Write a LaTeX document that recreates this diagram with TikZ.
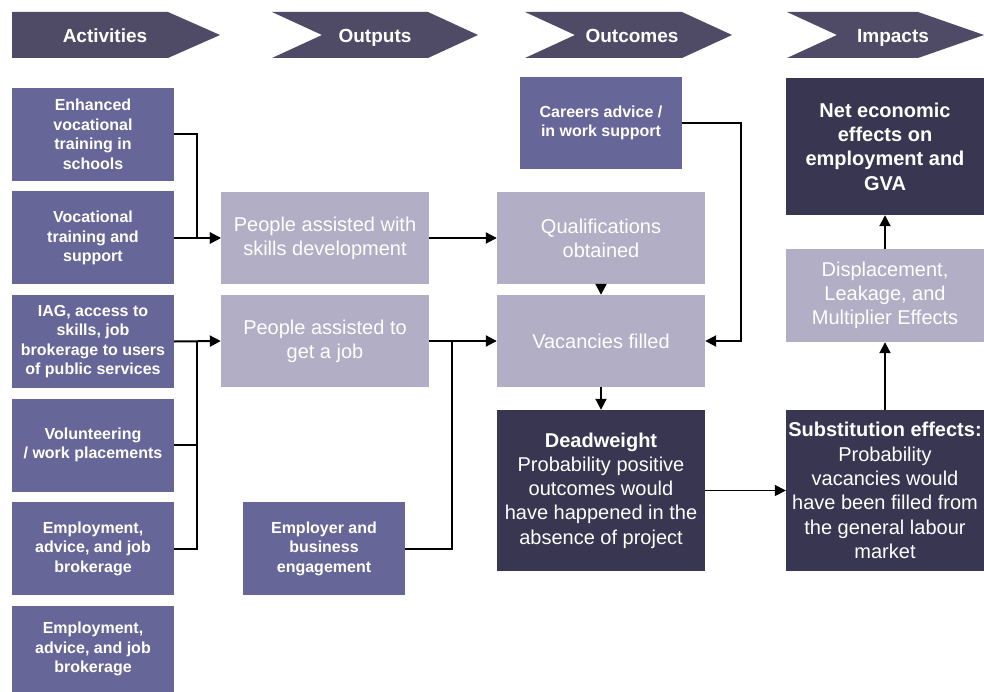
\documentclass[tikz,border=0pt]{standalone}
\usepackage{fontspec}
\setmainfont{Liberation Sans}
\usetikzlibrary{arrows.meta}

\definecolor{headcol}{RGB}{79,74,101}
\definecolor{midcol}{RGB}{102,102,153}
\definecolor{lightcol}{RGB}{178,174,197}
\definecolor{darkcol}{RGB}{56,54,81}

\tikzset{
  actbox/.style={fill=midcol, text=white, align=center, inner sep=0pt, minimum width=162pt, minimum height=93pt, font=\fontsize{16}{19.5}\selectfont\bfseries},
  outbox/.style={fill=lightcol, text=white, align=center, inner sep=0pt, minimum width=208pt, minimum height=92pt, font=\fontsize{20}{24}\selectfont},
  darkbox/.style={fill=darkcol, text=white, align=center, inner sep=0pt, font=\fontsize{20}{24.3}\selectfont},
  headtext/.style={text=white, inner sep=0pt, anchor=base, font=\fontsize{19}{22}\selectfont\bfseries},
  conn/.style={line width=2pt, -{Triangle[length=11pt, width=11pt]}},
  plain/.style={line width=2pt}
}

\begin{document}
\begin{tikzpicture}[x=1pt, y=-1pt]
    \useasboundingbox (0, 0) rectangle (984, 692);
    % headers
    \fill[headcol] (12, 12) -- (168, 12) -- (220, 35) -- (168, 58) -- (12, 58) -- cycle; % activities
    \fill[headcol] (272, 12) -- (428, 12) -- (478, 35) -- (428, 58) -- (272, 58) -- (322, 35) -- cycle; % outputs
    \fill[headcol] (525, 12) -- (682, 12) -- (732, 35) -- (682, 58) -- (525, 58) -- (575, 35) -- cycle; % outcomes
    \fill[headcol] (787, 12) -- (918, 12) -- (984, 35) -- (918, 58) -- (787, 58) -- (837, 35) -- cycle; % impacts
    \node[headtext] (hact) at (105, 43) {Activities};
    \node[headtext] (hout) at (375, 43) {Outputs};
    \node[headtext] (hoce) at (632, 43) {Outcomes};
    \node[headtext] (himp) at (893, 43) {Impacts};
    % activities
    \node[actbox] (enh) at (93, 134.5) {Enhanced\\vocational\\training in\\schools};
    \node[actbox] (voc) at (93, 238) {Vocational\\training and\\support};
    \node[actbox] (iag) at (93, 341.5) {IAG, access to\\skills, job\\brokerage to users\\of public services};
    \node[actbox] (vol) at (93, 445) {Volunteering\\/ work placements};
    \node[actbox] (empa) at (93, 548.5) {Employment,\\advice, and job\\brokerage};
    \node[actbox, minimum height=86pt] (empb) at (93, 649) {Employment,\\advice, and job\\brokerage};
    % outputs
    \node[outbox] (skills) at (325, 238) {People assisted with\\skills development};
    \node[outbox] (job) at (325, 341) {People assisted to\\get a job};
    \node[actbox] (eng) at (324, 548.5) {Employer and\\business\\engagement};
    % outcomes
    \node[actbox, minimum height=92pt] (car) at (601, 123) {Careers advice /\\in work support};
    \node[outbox] (qual) at (601, 238) {Qualifications\\obtained};
    \node[outbox] (vac) at (601, 341) {Vacancies filled};
    \node[darkbox, minimum width=208pt, minimum height=161pt] (dead) at (601, 490.5) {\textbf{Deadweight}\\Probability positive\\outcomes would\\have happened in the\\absence of project};
    % impacts
    \node[darkbox, minimum width=198pt, minimum height=137pt, font=\fontsize{20}{24.3}\selectfont\bfseries] (net) at (885, 146.5) {Net economic\\effects on\\employment and\\GVA};
    \node[outbox, minimum width=198pt, minimum height=93pt] (disp) at (885, 295.5) {Displacement,\\Leakage, and\\Multiplier Effects};
    \node[darkbox, minimum width=198pt, minimum height=161pt] (subs) at (885, 490.5) {\textbf{Substitution effects:}\\Probability\\vacancies would\\have been filled from\\the general labour\\market};
    % connectors
    \draw[conn] (enh.east) -- ++(23, 0) |- (skills.west);
    \draw[conn] (voc.east) -- (skills.west);
    \draw[conn] (iag.east) -- (job.west);
    \draw[plain] (empa.east) -- ++(23, 0) coordinate (ja) -- (ja |- iag.east);
    \draw[plain] (vol.east) -- (vol.east -| ja);
    \draw[conn] (skills.east) -- (qual.west);
    \draw[conn] (job.east) -- (vac.west);
    \draw[plain] (eng.east) -- ++(47, 0) coordinate (jb) -- (jb |- job.east);
    \draw[conn] (qual.south) -- (vac.north);
    \draw[conn] (car.east) -- ++(59, 0) |- (vac.east);
    \draw[conn] (vac.south) -- (dead.north);
    \draw[conn, line width=1.5pt] (dead.east) -- (subs.west);
    \draw[conn] (subs.north) -- (disp.south);
    \draw[conn] (disp.north) -- (net.south);
\end{tikzpicture}
\end{document}
